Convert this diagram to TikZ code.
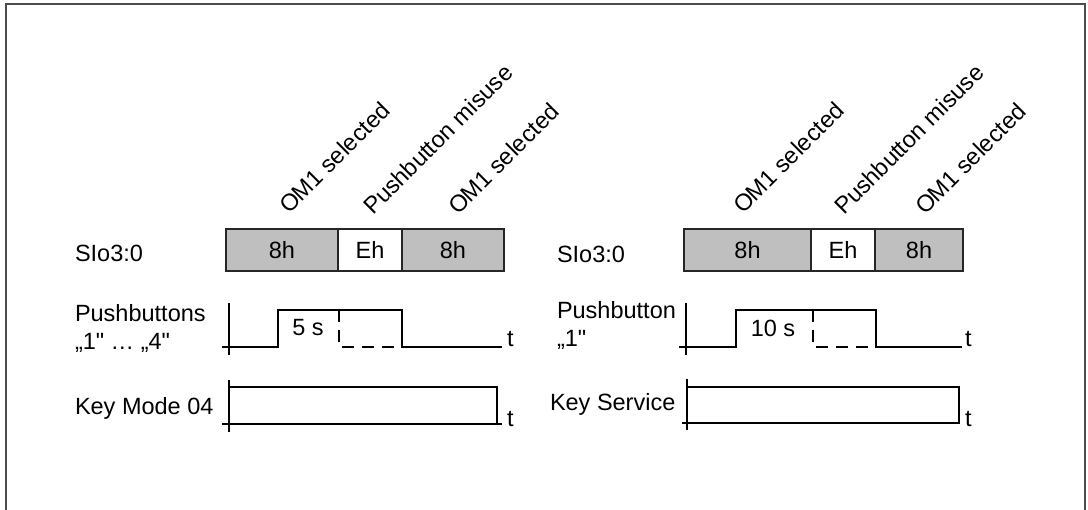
\documentclass[tikz,border=0pt]{standalone}
\usepackage{fontspec}
\setmainfont{Liberation Sans}[Ligatures=TeXOff]
\begin{document}
\begin{tikzpicture}[x=1pt,y=-1pt,
  lbl/.style={font=\fontsize{23.5}{28}\selectfont, inner sep=0pt, outer sep=0pt},
  cellbox/.style={lbl, draw=black!85, line width=1.6pt, minimum height=42pt},
  cellg/.style={cellbox, fill=black!25},
  cellw/.style={cellbox, fill=white},
  sig/.style={line width=1.6pt, black},
  dsh/.style={sig, dash pattern=on 12pt off 8pt},
  rotlbl/.style={lbl, rotate=45, anchor=base west},
  frame/.style={draw=gray!60!black, line width=2pt}]
\useasboundingbox (0,0) rectangle (1088,510);
\draw[frame] (6,510) -- (6,4) -- (1085,4) -- (1085,510);

% ---------- left panel ----------
\node[lbl, anchor=base west] (sioL) at (75,262) {SIo3:0};
\node[cellg, minimum width=112pt] (L1) at (282,250) {8h};
\node[cellw, minimum width=64pt]  (L2) at (370,250) {Eh};
\node[cellg, minimum width=102pt] (L3) at (453,250) {8h};

\node[rotlbl] (lomA) at (289,215) {OM1 selected};
\node[rotlbl] (lpbm) at (373,216) {Pushbutton misuse};
\node[rotlbl] (lomB) at (458,216) {OM1 selected};

\node[lbl, anchor=base west] (pbL1) at (75,322) {Pushbuttons};
\node[lbl, anchor=base west] (pbL2) at (75,350) {„1" … „4"};
\draw[sig] (229,303) -- (229,355);
\draw[sig] (222,347) -- (278,347) -- (278,310) -- (402,310) -- (402,347) -- (502,347);
\draw[dsh] (339,310) -- (339,347) -- (402,347);
\node[lbl, anchor=base] (fiveS) at (308,336) {5 s};
\node[lbl, anchor=base west] (tL1) at (507,347) {t};

\node[lbl, anchor=base west] (kmL) at (75,415) {Key Mode 04};
\draw[sig] (229,380) -- (229,432);
\draw[sig] (222,424) -- (502,424);
\draw[sig] (229,387) -- (497,387) -- (497,424);
\node[lbl, anchor=base west] (tL2) at (507,427) {t};

% ---------- right panel ----------
\node[lbl, anchor=base west] (sioR) at (557,263) {SIo3:0};
\node[cellg, minimum width=127pt] (R1) at (747.5,250) {8h};
\node[cellw, minimum width=64pt]  (R2) at (843,250) {Eh};
\node[cellg, minimum width=88pt]  (R3) at (919,250) {8h};

\node[rotlbl] (romA) at (743,215) {OM1 selected};
\node[rotlbl] (rpbm) at (844,216) {Pushbutton misuse};
\node[rotlbl] (romB) at (925,216) {OM1 selected};

\node[lbl, anchor=base west] (pbR1) at (557,319) {Pushbutton};
\node[lbl, anchor=base west] (pbR2) at (557,347) {„1"};
\draw[sig] (686,303) -- (686,355);
\draw[sig] (679,347) -- (736,347) -- (736,310) -- (876,310) -- (876,347) -- (962,347);
\draw[dsh] (813,310) -- (813,347) -- (876,347);
\node[lbl, anchor=base] (tenS) at (773,337) {10 s};
\node[lbl, anchor=base west] (tR1) at (965,347) {t};

\node[lbl, anchor=base west] (ksR) at (550,411) {Key Service};
\draw[sig] (687,379) -- (687,430);
\draw[sig] (682,423) -- (960,423);
\draw[sig] (687,387) -- (959,387) -- (959,423);
\node[lbl, anchor=base west] (tR2) at (965,427) {t};
\end{tikzpicture}
\end{document}
